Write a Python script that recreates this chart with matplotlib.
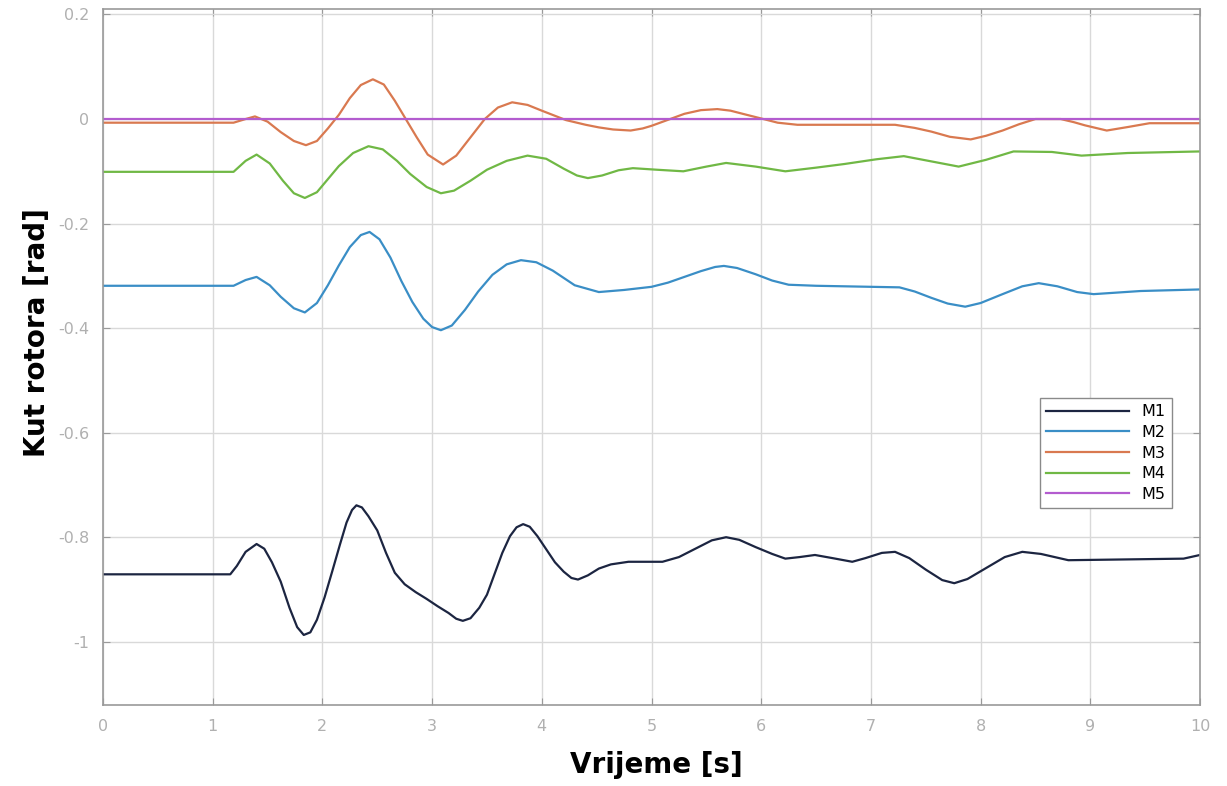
import matplotlib
matplotlib.use("Agg")
import matplotlib.pyplot as plt

# ---- data ----
t1 = [0, 1.16, 1.22, 1.30, 1.40, 1.47, 1.54, 1.62, 1.70, 1.77, 1.83, 1.89, 1.95, 2.02, 2.09,
      2.16, 2.22, 2.27, 2.31, 2.36, 2.42, 2.50, 2.58, 2.66, 2.75, 2.85, 2.95, 3.05, 3.15, 3.22,
      3.28, 3.35, 3.43, 3.50, 3.57, 3.64, 3.71, 3.77, 3.83, 3.89, 3.96, 4.04, 4.12, 4.20, 4.27,
      4.33, 4.42, 4.52, 4.63, 4.79, 5.10, 5.25, 5.40, 5.55, 5.68, 5.80, 5.95, 6.10, 6.22, 6.35,
      6.49, 6.65, 6.83, 6.95, 7.10, 7.22, 7.35, 7.50, 7.65, 7.76, 7.88, 8.05, 8.22, 8.38, 8.55,
      8.80, 9.85, 10.0]
m1 = [-0.871, -0.871, -0.855, -0.828, -0.813, -0.822, -0.848, -0.885, -0.935, -0.972, -0.987,
      -0.982, -0.958, -0.915, -0.865, -0.814, -0.772, -0.748, -0.739, -0.743, -0.760, -0.787,
      -0.830, -0.868, -0.890, -0.905, -0.918, -0.932, -0.945, -0.956, -0.960, -0.955, -0.935,
      -0.910, -0.870, -0.830, -0.798, -0.781, -0.775, -0.780, -0.798, -0.823, -0.848, -0.866,
      -0.878, -0.881, -0.873, -0.860, -0.852, -0.847, -0.847, -0.838, -0.822, -0.806, -0.800,
      -0.805, -0.819, -0.832, -0.841, -0.838, -0.834, -0.840, -0.847, -0.840, -0.830, -0.828,
      -0.840, -0.862, -0.882, -0.888, -0.880, -0.859, -0.838, -0.828, -0.832, -0.844, -0.841,
      -0.834]

t2 = [0, 1.19, 1.30, 1.40, 1.52, 1.62, 1.74, 1.84, 1.95, 2.05, 2.15, 2.25, 2.35, 2.43, 2.52,
      2.62, 2.72, 2.82, 2.92, 3.00, 3.08, 3.18, 3.30, 3.42, 3.55, 3.68, 3.81, 3.95, 4.10, 4.30,
      4.52, 4.75, 5.0, 5.15, 5.30, 5.45, 5.58, 5.66, 5.78, 5.95, 6.10, 6.25, 6.50, 7.26, 7.40,
      7.55, 7.70, 7.86, 8.00, 8.20, 8.38, 8.53, 8.70, 8.88, 9.03, 9.46, 10.0]
m2 = [-0.319, -0.319, -0.308, -0.302, -0.318, -0.340, -0.362, -0.370, -0.352, -0.318, -0.280,
      -0.245, -0.222, -0.216, -0.230, -0.265, -0.310, -0.350, -0.382, -0.398, -0.404, -0.395,
      -0.365, -0.330, -0.298, -0.278, -0.270, -0.274, -0.290, -0.318, -0.331, -0.327, -0.321,
      -0.313, -0.302, -0.291, -0.283, -0.281, -0.285, -0.297, -0.309, -0.317, -0.319, -0.322,
      -0.330, -0.342, -0.353, -0.359, -0.352, -0.335, -0.320, -0.314, -0.320, -0.331, -0.335,
      -0.329, -0.326]

t3 = [0, 1.19, 1.30, 1.385, 1.50, 1.62, 1.74, 1.85, 1.95, 2.05, 2.15, 2.25, 2.35, 2.46, 2.56,
      2.66, 2.76, 2.86, 2.96, 3.10, 3.22, 3.35, 3.48, 3.60, 3.73, 3.87, 4.0, 4.22, 4.40, 4.52,
      4.65, 4.81, 4.92, 5.0, 5.17, 5.30, 5.45, 5.60, 5.72, 5.85, 6.02, 6.15, 6.33, 7.22, 7.40,
      7.55, 7.72, 7.91, 8.05, 8.20, 8.35, 8.50, 8.73, 8.85, 8.95, 9.15, 9.35, 9.54, 10.0]
m3 = [-0.007, -0.007, 0.0, 0.005, -0.005, -0.025, -0.042, -0.050, -0.042, -0.018, 0.008, 0.040,
      0.065, 0.076, 0.066, 0.035, 0.0, -0.035, -0.068, -0.087, -0.070, -0.035, 0.0, 0.022, 0.032,
      0.027, 0.016, -0.002, -0.011, -0.016, -0.020, -0.022, -0.018, -0.013, 0.0, 0.010, 0.017,
      0.019, 0.016, 0.009, 0.0, -0.007, -0.011, -0.011, -0.017, -0.024, -0.034, -0.039, -0.032,
      -0.022, -0.010, 0.0, 0.0, -0.006, -0.012, -0.022, -0.015, -0.008, -0.008]

t4 = [0, 1.19, 1.30, 1.40, 1.52, 1.64, 1.74, 1.84, 1.95, 2.05, 2.15, 2.28, 2.42, 2.55, 2.68,
      2.80, 2.95, 3.08, 3.20, 3.35, 3.50, 3.68, 3.87, 4.04, 4.20, 4.32, 4.42, 4.55, 4.70, 4.83,
      5.05, 5.29, 5.50, 5.68, 5.95, 6.22, 6.50, 6.76, 7.05, 7.30, 7.55, 7.80, 8.05, 8.30, 8.65,
      8.92, 9.34, 10.0]
m4 = [-0.101, -0.101, -0.080, -0.068, -0.085, -0.118, -0.142, -0.151, -0.140, -0.115, -0.090,
      -0.065, -0.052, -0.058, -0.080, -0.105, -0.130, -0.142, -0.137, -0.118, -0.097, -0.080,
      -0.070, -0.076, -0.095, -0.108, -0.113, -0.108, -0.098, -0.094, -0.097, -0.100, -0.091,
      -0.084, -0.091, -0.100, -0.093, -0.086, -0.077, -0.071, -0.081, -0.091, -0.078, -0.062,
      -0.063, -0.070, -0.065, -0.062]

t5 = [0, 10]
m5 = [0.0, 0.0]

labels = ["M1", "M2", "M3", "M4", "M5"]
colors = ["#1c2541", "#3a8ec6", "#d97950", "#70b845", "#b35ccf"]

xticks = [0, 1, 2, 3, 4, 5, 6, 7, 8, 9, 10]
yticks = [0.2, 0, -0.2, -0.4, -0.6, -0.8, -1]
ytick_labels = ["0.2", "0", "-0.2", "-0.4", "-0.6", "-0.8", "-1"]

# ---- figure ----
fig = plt.figure(figsize=(12.27, 7.86), dpi=100)
ax = fig.add_axes([103 / 1227, 81 / 786, 1097 / 1227, 696 / 786])

series = [(t1, m1), (t2, m2), (t3, m3), (t4, m4), (t5, m5)]
for (tx, yv), lab, c in zip(series, labels, colors):
    ax.plot(tx, yv, color=c, lw=1.6, label=lab, solid_joinstyle="round")

ax.set_xlim(0, 10)
ax.set_ylim(-1.121, 0.2105)
ax.set_xticks(xticks)
ax.set_xticklabels([str(v) for v in xticks])
ax.set_yticks(yticks)
ax.set_yticklabels(ytick_labels)

ax.grid(True, color="#d9d9d9", lw=1.0)
ax.set_axisbelow(True)
for s in ax.spines.values():
    s.set_color("#9a9a9a")
    s.set_linewidth(1.2)
ax.tick_params(direction="in", top=True, right=True, length=5, color="#9a9a9a",
               labelcolor="#b0b0b0", labelsize=11.5, pad=10)

ax.set_xlabel("Vrijeme [s]", fontsize=20, fontweight="bold", color="black")
ax.set_ylabel("Kut rotora [rad]", fontsize=20, fontweight="bold", color="black")
ax.xaxis.set_label_coords(0.504, -0.066)
ax.yaxis.set_label_coords(-0.047, 0.535)

leg = ax.legend(loc="upper right", bbox_to_anchor=(0.982, 0.4526), fontsize=11.5,
                handlelength=5.2, fancybox=False, framealpha=1, edgecolor="#8a8a8a",
                borderpad=0.4, labelspacing=0.35)
leg.get_frame().set_linewidth(1.0)

fig.savefig("out.png", dpi=100)
